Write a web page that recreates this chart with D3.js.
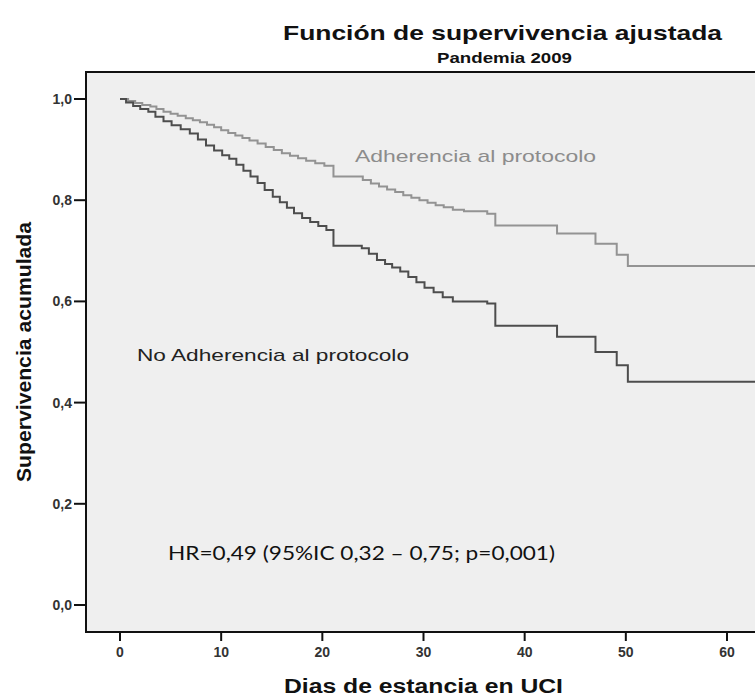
<!DOCTYPE html>
<html lang="es">
<head>
<meta charset="UTF-8">
<title>Función de supervivencia ajustada</title>
<script src="https://d3js.org/d3.v7.min.js"></script>
<style>
  body { margin: 0; background: #fff; }
  text { font-family: "Liberation Sans", Arial, sans-serif; }
</style>
</head>
<body>
<div id="chart"></div>
<script>
// survival data (day of the step, survival after it)
const adhDays = [0, 0.8, 1.5, 2.2, 3.0, 3.6, 4.3, 5.0, 5.7, 6.5, 7.2, 7.9, 8.6, 9.3, 10.0, 10.7, 11.4, 12.1, 12.8,
  13.6, 14.4, 15.2, 16.0, 16.8, 17.6, 18.4, 19.3, 20.2, 21.1, 24.0, 24.8, 25.6, 26.4, 27.2, 28.0, 28.8, 29.6,
  30.4, 31.2, 32.0, 32.9, 34.0, 36.3, 37.1, 43.2, 47.0, 49.1, 50.2, 63];
const adhSurv = [1.000, 0.996, 0.992, 0.988, 0.985, 0.980, 0.975, 0.971, 0.967, 0.962, 0.958, 0.954, 0.949, 0.944, 0.938, 0.933, 0.928, 0.923, 0.918,
  0.912, 0.905, 0.899, 0.893, 0.888, 0.883, 0.878, 0.873, 0.868, 0.847, 0.840, 0.833, 0.827, 0.821, 0.816, 0.810, 0.805, 0.800,
  0.795, 0.790, 0.786, 0.781, 0.778, 0.773, 0.750, 0.734, 0.714, 0.692, 0.670, 0.670];

const noAdhDays = [0, 0.6, 1.3, 2.0, 2.8, 3.5, 4.3, 5.1, 6.0, 6.9, 7.7, 8.5, 9.3, 10.1, 10.8, 11.5, 12.2, 12.9, 13.6,
  14.3, 15.1, 15.8, 16.5, 17.2, 18.0, 18.8, 19.6, 20.4, 21.1, 23.9, 24.6, 25.4, 26.2, 26.9, 27.7, 28.5, 29.3,
  30.1, 31.0, 31.9, 32.9, 36.3, 37.1, 43.2, 47.0, 49.1, 50.2, 63];
const noAdhSurv = [1.000, 0.993, 0.986, 0.980, 0.975, 0.965, 0.956, 0.948, 0.940, 0.932, 0.920, 0.908, 0.898, 0.889, 0.882, 0.870, 0.858, 0.847, 0.834,
  0.820, 0.807, 0.796, 0.785, 0.774, 0.765, 0.757, 0.749, 0.741, 0.710, 0.705, 0.694, 0.682, 0.674, 0.667, 0.659, 0.648, 0.638,
  0.627, 0.618, 0.608, 0.600, 0.596, 0.552, 0.530, 0.500, 0.474, 0.441, 0.441];

const xTicks = [0, 10, 20, 30, 40, 50, 60];
const yTicks = [0, 0.2, 0.4, 0.6, 0.8, 1.0];

const title = "Función de supervivencia ajustada";
const subtitle = "Pandemia 2009";
const xLabel = "Dias de estancia en UCI";
const yLabel = "Supervivencia acumulada";
const adhLabel = "Adherencia al protocolo";
const noAdhLabel = "No Adherencia al protocolo";
const hrLabel = "HR=0,49 (95%IC 0,32 – 0,75; p=0,001)";

const W = 755, H = 697;
const plot = {left: 86, top: 72, right: 755, bottom: 632};

const svg = d3.select("#chart").append("svg")
    .attr("width", W)
    .attr("height", H);

const x = d3.scaleLinear().domain([0, 60]).range([120, 727]);
const y = d3.scaleLinear().domain([0, 1]).range([605, 99]);

// plot background
svg.append("rect")
    .attr("x", plot.left).attr("y", plot.top)
    .attr("width", plot.right - plot.left)
    .attr("height", plot.bottom - plot.top)
    .attr("fill", "#efefef");

svg.append("defs").append("clipPath").attr("id", "clip")
  .append("rect")
    .attr("x", plot.left).attr("y", plot.top)
    .attr("width", plot.right - plot.left)
    .attr("height", plot.bottom - plot.top);

// curves
const line = d3.line()
    .x(d => x(d[0]))
    .y(d => y(d[1]))
    .curve(d3.curveStepAfter);

const adh = d3.zip(adhDays, adhSurv);
const noAdh = d3.zip(noAdhDays, noAdhSurv);

svg.append("path")
    .datum(adh)
    .attr("clip-path", "url(#clip)")
    .attr("fill", "none")
    .attr("stroke", "#939393")
    .attr("stroke-width", 2)
    .attr("d", line);

svg.append("path")
    .datum(noAdh)
    .attr("clip-path", "url(#clip)")
    .attr("fill", "none")
    .attr("stroke", "#4d4d4d")
    .attr("stroke-width", 2)
    .attr("d", line);

// frame (top, left, bottom)
svg.append("path")
    .attr("d", `M${plot.right},${plot.top}H${plot.left}V${plot.bottom}H${plot.right}`)
    .attr("fill", "none")
    .attr("stroke", "#111")
    .attr("stroke-width", 2);

// x axis ticks + labels
const xg = svg.append("g");
xg.selectAll("line")
    .data(xTicks)
    .join("line")
    .attr("x1", d => x(d)).attr("x2", d => x(d))
    .attr("y1", plot.bottom).attr("y2", plot.bottom + 9)
    .attr("stroke", "#111")
    .attr("stroke-width", 2);
xg.selectAll("text")
    .data(xTicks)
    .join("text")
    .attr("x", d => x(d))
    .attr("y", 657)
    .attr("text-anchor", "middle")
    .attr("font-size", 14)
    .attr("font-weight", "bold")
    .attr("fill", "#333")
    .text(d => d);

// y axis ticks + labels
const yg = svg.append("g");
yg.selectAll("line")
    .data(yTicks)
    .join("line")
    .attr("x1", plot.left - 12).attr("x2", plot.left)
    .attr("y1", d => y(d)).attr("y2", d => y(d))
    .attr("stroke", "#111")
    .attr("stroke-width", 2);
yg.selectAll("text")
    .data(yTicks)
    .join("text")
    .attr("x", 72)
    .attr("y", d => y(d))
    .attr("dy", "0.35em")
    .attr("text-anchor", "end")
    .attr("font-size", 14)
    .attr("font-weight", "bold")
    .attr("fill", "#333")
    .text(d => d3.format(".1f")(d).replace(".", ","));

// titles
svg.append("text")
    .attr("x", 283).attr("y", 40)
    .attr("font-size", 21)
    .attr("font-weight", "bold")
    .attr("textLength", 439)
    .attr("lengthAdjust", "spacingAndGlyphs")
    .attr("fill", "#111")
    .text(title);

svg.append("text")
    .attr("x", 437).attr("y", 63)
    .attr("font-size", 14)
    .attr("font-weight", "bold")
    .attr("textLength", 135)
    .attr("lengthAdjust", "spacingAndGlyphs")
    .attr("fill", "#111")
    .text(subtitle);

// axis titles
svg.append("text")
    .attr("x", 284).attr("y", 693)
    .attr("font-size", 20)
    .attr("font-weight", "bold")
    .attr("textLength", 279)
    .attr("lengthAdjust", "spacingAndGlyphs")
    .attr("fill", "#111")
    .text(xLabel);

svg.append("text")
    .attr("transform", "translate(31,482) rotate(-90)")
    .attr("font-size", 20)
    .attr("font-weight", "bold")
    .attr("textLength", 260)
    .attr("lengthAdjust", "spacingAndGlyphs")
    .attr("fill", "#111")
    .text(yLabel);

// annotations
svg.append("text")
    .attr("x", 355).attr("y", 162)
    .attr("font-size", 17)
    .attr("textLength", 241)
    .attr("lengthAdjust", "spacingAndGlyphs")
    .attr("fill", "#8c8c8c")
    .text(adhLabel);

svg.append("text")
    .attr("x", 137).attr("y", 361)
    .attr("font-size", 17)
    .attr("textLength", 272)
    .attr("lengthAdjust", "spacingAndGlyphs")
    .attr("fill", "#222")
    .text(noAdhLabel);

svg.append("text")
    .attr("x", 168).attr("y", 560)
    .attr("font-size", 20)
    .attr("textLength", 387)
    .attr("lengthAdjust", "spacingAndGlyphs")
    .attr("fill", "#111")
    .style("font-family", "Lato, 'Open Sans', sans-serif")
    .text(hrLabel);
</script>
</body>
</html>
